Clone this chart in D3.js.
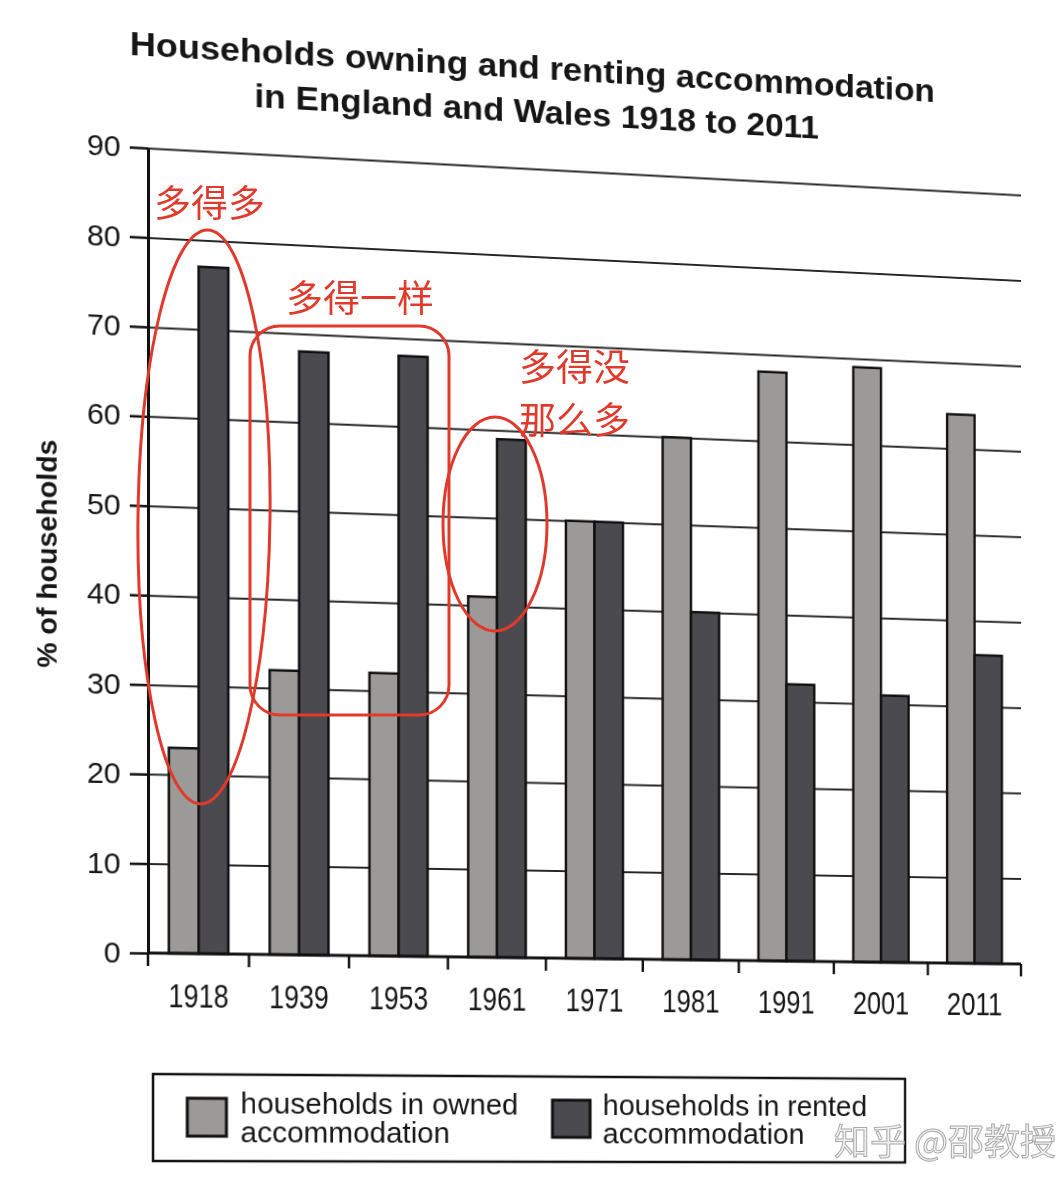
<!DOCTYPE html>
<html>
<head>
<meta charset="utf-8">
<script src="https://cdn.jsdelivr.net/npm/d3@7"></script>
<style>
html, body { margin: 0; padding: 0; background: #fff; overflow: hidden; width: 1062px; height: 1192px; }
#chart { position: absolute; left: 0; top: 0; transform-origin: 0 0; }
#marks { position: absolute; left: 0; top: 0; }
</style>
</head>
<body>
<svg id="chart" width="1100" height="1192"></svg>
<svg id="marks" width="1062" height="1192"></svg>
<script>
// data
var years = ["1918", "1939", "1953", "1961", "1971", "1981", "1991", "2001", "2011"];
var owned = [23, 32, 32, 41, 50, 60, 68, 69, 64];
var rented = [77, 68, 68, 59, 50, 40, 32, 31, 36];
var yTicks = [0, 10, 20, 30, 40, 50, 60, 70, 80, 90];
var seriesKeys = ["owned", "rented"];
var seriesLabels = [["households in owned", "accommodation"], ["households in rented", "accommodation"]];

var plotLeft = 148, plotRight = 1053, plotTop = 148, plotBottom = 953;
var font = "'Liberation Sans', Arial, sans-serif";
var ink = "#161616";

var color = d3.scaleOrdinal().domain(seriesKeys).range(["#9c9a98", "#4a4a4f"]);

var svg = d3.select("#chart");

var x0 = d3.scaleBand().domain(years).range([plotLeft, plotRight]).paddingInner(0).paddingOuter(0);
var x1 = d3.scaleBand().domain(seriesKeys).range([0, x0.bandwidth()]).paddingInner(0).paddingOuter(0.7);
var yScale = d3.scaleLinear().domain([0, 90]).range([plotBottom, plotTop]);

// title
var title = svg.append("g")
  .attr("font-family", font)
  .attr("font-weight", "bold")
  .attr("font-size", 34)
  .attr("fill", ink)
  .attr("text-anchor", "middle");
title.append("text").attr("x", 545).attr("y", 56)
  .attr("textLength", 830).attr("lengthAdjust", "spacingAndGlyphs")
  .text("Households owning and renting accommodation");
title.append("text").attr("x", 545).attr("y", 101)
  .attr("textLength", 582).attr("lengthAdjust", "spacingAndGlyphs")
  .text("in England and Wales 1918 to 2011");

// gridlines
svg.append("g")
  .attr("transform", `translate(${plotLeft},0)`)
  .call(d3.axisLeft(yScale).tickValues(yTicks.filter(d => d > 0)).tickSize(-(plotRight - plotLeft)).tickFormat(""))
  .call(g => g.select(".domain").remove())
  .selectAll("line")
  .attr("stroke", "#262626")
  .attr("stroke-width", 2);

// bars
var rows = years.map(function(yr, i) {
  return { year: yr, values: [{ key: "owned", v: owned[i] }, { key: "rented", v: rented[i] }] };
});

svg.append("g")
  .selectAll("g")
  .data(rows)
  .join("g")
  .attr("transform", d => `translate(${x0(d.year)},0)`)
  .selectAll("rect")
  .data(d => d.values)
  .join("rect")
  .attr("x", d => x1(d.key))
  .attr("y", d => yScale(d.v))
  .attr("width", x1.bandwidth())
  .attr("height", d => yScale(0) - yScale(d.v))
  .attr("fill", d => color(d.key))
  .attr("stroke", "#111")
  .attr("stroke-width", 2.5);

// x axis: baseline, ticks between groups, year labels
svg.append("line")
  .attr("x1", plotLeft).attr("x2", plotRight)
  .attr("y1", plotBottom).attr("y2", plotBottom)
  .attr("stroke", "#111").attr("stroke-width", 3);

svg.append("g")
  .selectAll("line")
  .data(years.map(d => x0(d)).concat([plotRight]))
  .join("line")
  .attr("x1", d => d).attr("x2", d => d)
  .attr("y1", plotBottom).attr("y2", plotBottom + 13)
  .attr("stroke", "#111").attr("stroke-width", 2.5);

svg.append("g")
  .attr("transform", `translate(0,${plotBottom})`)
  .call(d3.axisBottom(x0).tickSize(0).tickPadding(31))
  .call(g => g.select(".domain").remove())
  .selectAll("text")
  .attr("font-family", font)
  .attr("font-size", 33)
  .attr("textLength", 60)
  .attr("lengthAdjust", "spacingAndGlyphs")
  .attr("fill", ink);

// y axis
svg.append("g")
  .attr("transform", `translate(${plotLeft},0)`)
  .call(d3.axisLeft(yScale).tickValues(yTicks).tickSize(18).tickSizeOuter(0).tickPadding(9))
  .call(function(g) {
    g.select(".domain").attr("stroke", "#111").attr("stroke-width", 3);
    g.selectAll(".tick line").attr("stroke", "#111").attr("stroke-width", 2.5);
    g.selectAll("text").attr("font-family", font).attr("font-size", 30).attr("fill", ink);
  });

svg.append("text")
  .attr("transform", "translate(58,557) rotate(-90)")
  .attr("text-anchor", "middle")
  .attr("font-family", font)
  .attr("font-weight", "bold")
  .attr("font-size", 27)
  .attr("textLength", 227)
  .attr("lengthAdjust", "spacingAndGlyphs")
  .attr("fill", ink)
  .text("% of households");

// legend
var legend = svg.append("g");
legend.append("rect")
  .attr("x", 153).attr("y", 1074).attr("width", 775).attr("height", 87)
  .attr("fill", "none").attr("stroke", "#111").attr("stroke-width", 2.5);

var legendX = [187, 557];
var legendTextX = [240, 609];
var item = legend.selectAll("g.item")
  .data(seriesKeys)
  .join("g")
  .attr("class", "item");
item.append("rect")
  .attr("x", (d, i) => legendX[i]).attr("y", 1098)
  .attr("width", 39).attr("height", 38)
  .attr("fill", d => color(d))
  .attr("stroke", "#111").attr("stroke-width", 3);
item.append("text")
  .attr("font-family", font)
  .attr("font-size", 30)
  .attr("fill", ink)
  .selectAll("tspan")
  .data((d, i) => seriesLabels[i].map(t => ({ t: t, i: i })))
  .join("tspan")
  .attr("x", d => legendTextX[d.i])
  .attr("y", (d, j) => 1113 + j * 29)
  .text(d => d.t);

// the photo is taken at a slight angle: map the flat chart onto it
function homography(src, dst) {
  var A = [], b = [];
  for (var i = 0; i < 4; i++) {
    var sx = src[i][0], sy = src[i][1], u = dst[i][0], v = dst[i][1];
    A.push([sx, sy, 1, 0, 0, 0, -u * sx, -u * sy]); b.push(u);
    A.push([0, 0, 0, sx, sy, 1, -v * sx, -v * sy]); b.push(v);
  }
  for (var c = 0; c < 8; c++) {
    var p = c;
    for (var r = c + 1; r < 8; r++) if (Math.abs(A[r][c]) > Math.abs(A[p][c])) p = r;
    var tmp = A[c]; A[c] = A[p]; A[p] = tmp;
    var tb = b[c]; b[c] = b[p]; b[p] = tb;
    for (var r2 = 0; r2 < 8; r2++) {
      if (r2 === c) continue;
      var f = A[r2][c] / A[c][c];
      for (var k = c; k < 8; k++) A[r2][k] -= f * A[c][k];
      b[r2] -= f * b[c];
    }
  }
  return b.map((v, i) => v / A[i][i]);
}

var h = homography(
  [[plotLeft, plotTop], [plotRight, plotTop], [plotRight, plotBottom], [plotLeft, plotBottom]],
  [[148, 148], [1021, 195], [1021, 964], [148, 953]]
);
d3.select("#chart").style("transform",
  `matrix3d(${h[0]},${h[3]},0,${h[6]},${h[1]},${h[4]},0,${h[7]},0,0,1,0,${h[2]},${h[5]},0,1)`);

// red hand annotations and the watermark sit on top of the photo
var marks = d3.select("#marks");
var red = "#e03a2d";
var notes = marks.append("g").attr("fill", "none").attr("stroke", red).attr("stroke-width", 3);
notes.append("ellipse").attr("cx", 204).attr("cy", 517).attr("rx", 66).attr("ry", 287)
  .attr("transform", "rotate(0.7,204,517)");
notes.append("rect").attr("x", 250).attr("y", 326).attr("width", 199).attr("height", 389).attr("rx", 30);
notes.append("ellipse").attr("cx", 495).attr("cy", 524).attr("rx", 52).attr("ry", 107);

var noteText = marks.append("g")
  .attr("font-family", "'Noto Sans CJK SC', sans-serif")
  .attr("font-size", 37)
  .attr("fill", red);
noteText.append("text").attr("x", 154).attr("y", 217).text("多得多");
noteText.append("text").attr("x", 286).attr("y", 312).text("多得一样");
noteText.append("text").attr("x", 519).attr("y", 381).text("多得没");
noteText.append("text").attr("x", 519).attr("y", 434).text("那么多");

marks.append("text")
  .attr("x", 834).attr("y", 1155)
  .attr("font-family", "'Noto Sans CJK SC', sans-serif")
  .attr("font-size", 36)
  .attr("fill", "#f3f3f3")
  .attr("stroke", "#a9a9a9")
  .attr("stroke-width", 1)
  .text("知乎 @邵教授");
</script>
</body>
</html>
